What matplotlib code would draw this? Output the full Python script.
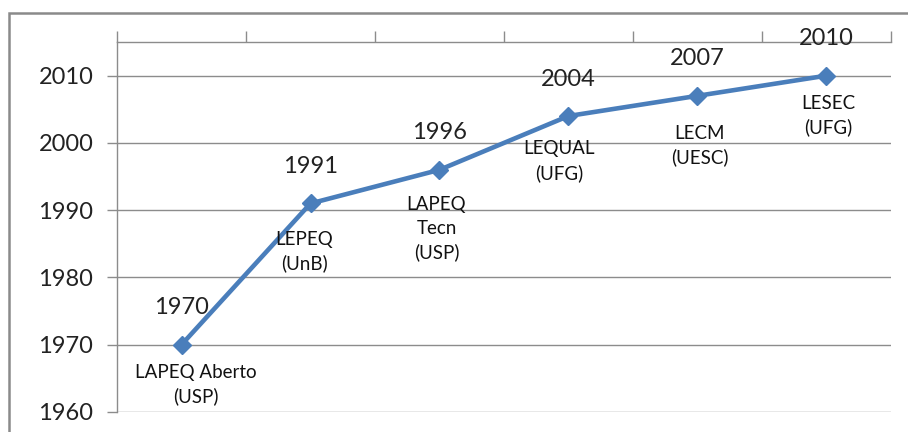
import matplotlib
matplotlib.use("Agg")
import matplotlib.pyplot as plt
from matplotlib.patches import Rectangle

# Data
categories = ["LAPEQ Aberto\n(USP)", "LEPEQ\n(UnB)", "LAPEQ\nTecn\n(USP)",
              "LEQUAL\n(UFG)", "LECM\n(UESC)", "LESEC\n(UFG)"]
years = [1970, 1991, 1996, 2004, 2007, 2010]
yticks = [1960, 1970, 1980, 1990, 2000, 2010]

# Label placement offsets (pixels) for the category labels
cat_offsets = [(14, -40), (-6, -48), (-3, -59), (-9, -45), (2, -50), (2, -40)]

FONT = ["Lato", "DejaVu Sans"]
plt.rcParams["font.family"] = FONT

W, H = 908, 432
fig = plt.figure(figsize=(W / 100, H / 100), dpi=100)
ax = fig.add_axes([117 / W, 1 - 412 / H, (891 - 117) / W, (412 - 42) / H])

line_color = "#4A7EBB"
grid_color = "#8C8C8C"
x = list(range(len(years)))
ax.plot(x, years, color=line_color, lw=3.3, marker="D", markersize=9,
        markeredgecolor=line_color, markerfacecolor=line_color, zorder=3,
        solid_joinstyle="round")

ax.set_xlim(-0.5, len(years) - 0.5)
ax.set_ylim(1960, 2015)
ax.set_yticks(yticks)
ax.set_yticklabels([str(v) for v in yticks], fontsize=17, color="#222222")
ax.yaxis.grid(True, color=grid_color, lw=1)
ax.set_axisbelow(True)

# category axis at top, no labels
ax.xaxis.tick_top()
ax.set_xticks([i - 0.5 for i in range(len(years) + 1)])
ax.set_xticklabels([])
ax.tick_params(axis="x", direction="out", length=8, color=grid_color, width=1)
ax.tick_params(axis="y", direction="out", length=7, color=grid_color, width=1, pad=10)

for s in ["right", "bottom"]:
    ax.spines[s].set_visible(False)
for s in ["top", "left"]:
    ax.spines[s].set_color(grid_color)
    ax.spines[s].set_linewidth(1)

for i, (yr, cat) in enumerate(zip(years, categories)):
    ax.annotate(str(yr), (i, yr), xytext=(0, 37), textcoords="offset pixels",
                ha="center", va="center", fontsize=17, color="#222222")
    dx, dy = cat_offsets[i]
    ax.annotate(cat, (i, yr), xytext=(dx, dy), textcoords="offset pixels",
                ha="center", va="center", fontsize=13.5, color="#111111",
                linespacing=1.45, multialignment="center")

# outer chart frame
fig.patches.append(Rectangle((9 / W, -0.1), 1.2, 1 - 13 / H + 0.1,
                             transform=fig.transFigure, fill=False,
                             edgecolor="#8A8A8A", lw=1.8, clip_on=False))

fig.savefig("out.png", dpi=100)
